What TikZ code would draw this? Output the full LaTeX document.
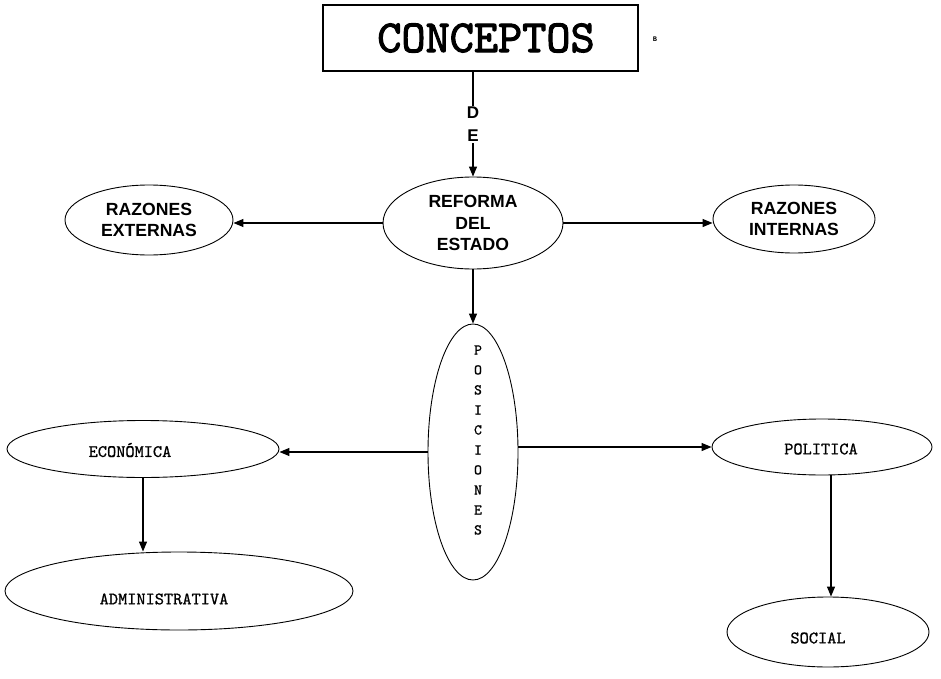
\documentclass[tikz,border=0pt]{standalone}
\usepackage{fontspec}
\setmainfont{Liberation Sans}
\newfontfamily\heavymono{lmmono10-regular.otf}[FakeBold=2.2]
\newfontfamily\midmono{lmmono10-regular.otf}[FakeBold=0.8]
\newfontfamily\tinymono{Liberation Mono}
\usetikzlibrary{shapes.geometric,arrows.meta}
\begin{document}
\begin{tikzpicture}[x=1pt,y=-1pt,
  oval/.style={draw,ellipse,line width=0.9pt,inner sep=0pt},
  arr/.style={line width=1.2pt,-{Triangle[length=10pt,width=8pt]}},
  bold/.style={font=\fontsize{17.6}{21.5}\selectfont\bfseries,align=center},
  mono/.style={font=\fontsize{17.5}{20}\selectfont\midmono}]
\useasboundingbox (0,0) rectangle (941,679);

% title box
\node[draw,line width=1.8pt,minimum width=315pt,minimum height=66pt,inner sep=0pt]
  (box) at (480.5,38) {};
\node[font=\fontsize{7}{8}\selectfont\tinymono\bfseries] (b) at (655,39) {B};

% first level
\node[oval,minimum width=180pt,minimum height=92pt,bold] (ref) at (473,223) {REFORMA\\DEL\\ESTADO};
\node[oval,minimum width=168pt,minimum height=70pt,bold] (ext) at (149,220) {RAZONES\\EXTERNAS};
\node[oval,minimum width=162pt,minimum height=68pt,bold] (int) at (794,219) {RAZONES\\INTERNAS};

% second level outlines
\node[oval,minimum width=90pt,minimum height=256pt] (pos) at (473,452) {};
\node[oval,minimum width=272pt,minimum height=57pt] (econ) at (143,449) {};
\node[oval,minimum width=348pt,minimum height=78pt] (adm) at (179,591) {};
\node[oval,minimum width=220pt,minimum height=56pt] (pol) at (822,447) {};
\node[oval,minimum width=202pt,minimum height=70pt] (soc) at (828,632) {};

% connectors
\draw[arr] (box.south -| ref.north) -- node[fill=white,inner sep=1pt,bold,font=\fontsize{17}{23}\selectfont\bfseries] (de) {D\\E} (ref.north);
\draw[arr] (ref.west) -- (ref.west -| ext.east);
\draw[arr] (ref.east) -- (ref.east -| int.west);
\draw[arr] (ref.south) -- (pos.north);
\draw[arr] (pos.west) -- (pos.west -| econ.east);
\draw[arr] (pol.west -| pos.east) -- (pol.west);
\draw[arr] (econ.south) -- (econ.south |- adm.north);
\draw[arr] ([xshift=9pt]pol.south) -- ([xshift=3pt]soc.north);

% typewriter labels, set last
\node[font=\fontsize{15}{20}\selectfont\midmono,align=center] (postext) at (478,440)
  {P\\O\\S\\I\\C\\I\\O\\N\\E\\S};
\node[mono] (econtext) at (130,450) {ECONÓMICA};
\node[mono] (admtext) at (164,599) {ADMINISTRATIVA};
\node[mono] (poltext) at (821,449) {POLITICA};
\node[mono] (soctext) at (818,638) {SOCIAL};
\node[font=\fontsize{46}{48}\selectfont\heavymono] (title) at (486,38) {CONCEPTOS};
\end{tikzpicture}
\end{document}
